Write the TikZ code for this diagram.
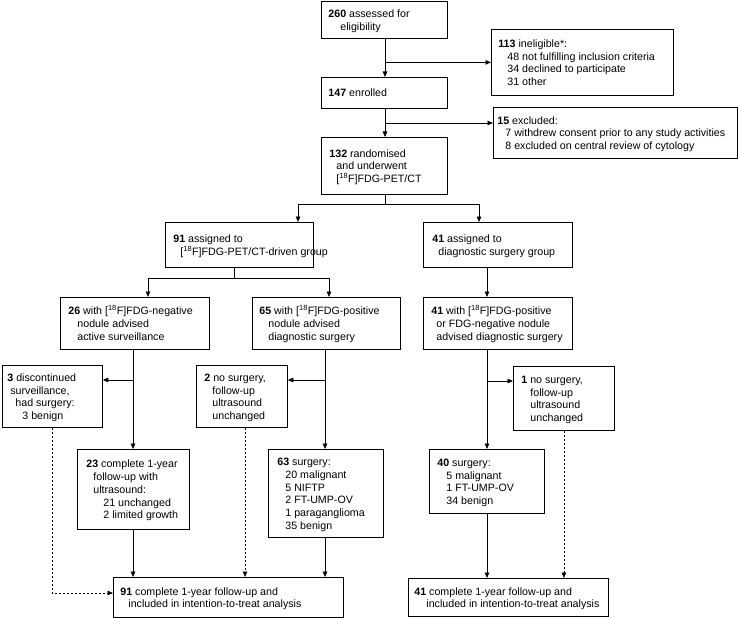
\documentclass[tikz,border=0pt]{standalone}
\usepackage{fontspec}
\setmainfont{Liberation Sans}
\usetikzlibrary{arrows.meta}
\newcommand\bt[2]{\makebox[#1][l]{\raisebox{-1.5bp}[\height][\depth]{\begin{tabular}{@{}l@{}}#2\end{tabular}}}}
\newcommand\iso{[\textsuperscript{18}F]}
\newcommand\ind[1]{\hspace*{#1bp}}
\begin{document}
\begin{tikzpicture}[x=1bp,y=-1bp,
  box/.style={draw=black, line width=0.8bp, anchor=north west, inner ysep=0pt,
    font=\fontsize{10.7}{12.8}\selectfont},
  arr/.style={line width=0.8bp, -{Triangle[length=5.5bp,width=4.5bp]}},
  ln/.style={line width=0.8bp},
  dsh/.style={line width=0.8bp, dash pattern=on 2bp off 2bp}]
\useasboundingbox (0,0) rectangle (738,618);
% boxes
\node[box, inner xsep=7bp, minimum width=126bp, minimum height=37bp] (A) at (321,1)
  {\bt{112bp}{\textbf{260} assessed for\\ \ind{12}eligibility}};
\node[box, inner xsep=7bp, minimum width=182bp, minimum height=66bp] (B) at (491,29)
  {\bt{168bp}{\textbf{113} ineligible*:\\ \ind{9}48 not fulfilling inclusion criteria\\ \ind{9}34 declined to participate\\ \ind{9}31 other}};
\node[box, inner xsep=7bp, minimum width=126bp, minimum height=31bp] (C) at (321,77)
  {\bt{112bp}{\textbf{147} enrolled}};
\node[box, inner xsep=4bp, minimum width=244bp, minimum height=51bp] (D) at (493,107)
  {\bt{236bp}{\textbf{15} excluded:\\ \ind{8}7 withdrew consent prior to any study activities\\ \ind{8}8 excluded on central review of cytology}};
\node[box, inner xsep=8bp, minimum width=126bp, minimum height=57bp] (E) at (321,137)
  {\bt{110bp}{\textbf{132} randomised\\ \ind{7}and underwent\\ \ind{7}\iso FDG-PET/CT}};
\node[box, inner xsep=8bp, minimum width=148bp, minimum height=45bp] (F) at (165,222)
  {\bt{132bp}{\textbf{91} assigned to\\ \ind{7}\iso FDG-PET/CT-driven group}};
\node[box, inner xsep=9bp, minimum width=149bp, minimum height=45bp] (G) at (423,222)
  {\bt{131bp}{\textbf{41} assigned to\\ \ind{6}diagnostic surgery group}};
\node[box, inner xsep=8bp, minimum width=149bp, minimum height=52bp] (H) at (60,297)
  {\bt{133bp}{\textbf{26} with \iso FDG-negative\\ \ind{9}nodule advised\\ \ind{9}active surveillance}};
\node[box, inner xsep=7bp, minimum width=148bp, minimum height=52bp] (I) at (252,297)
  {\bt{134bp}{\textbf{65} with \iso FDG-positive\\ \ind{9}nodule advised\\ \ind{9}diagnostic surgery}};
\node[box, inner xsep=8bp, minimum width=149bp, minimum height=52bp] (J) at (423,297)
  {\bt{133bp}{\textbf{41} with \iso FDG-positive\\ \ind{5}or FDG-negative nodule\\ \ind{5}advised diagnostic surgery}};
\node[box, inner xsep=5bp, minimum width=100bp, minimum height=62bp] (K) at (2,365)
  {\bt{90bp}{\textbf{3} discontinued\\ \ind{3}surveillance,\\ \ind{8}had surgery:\\ \ind{15}3 benign}};
\node[box, inner xsep=8bp, minimum width=91bp, minimum height=62bp] (L) at (196,365)
  {\bt{75bp}{\textbf{2} no surgery,\\ \ind{8}follow-up\\ \ind{8}ultrasound\\ \ind{8}unchanged}};
\node[box, inner xsep=8bp, minimum width=101bp, minimum height=64bp] (M) at (513,366)
  {\bt{85bp}{\textbf{1} no surgery,\\ \ind{9}follow-up\\ \ind{9}ultrasound\\ \ind{9}unchanged}};
\node[box, inner xsep=9bp, minimum width=112bp, minimum height=80bp] (N) at (77,449)
  {\bt{94bp}{\textbf{23} complete 1-year\\ \ind{7}follow-up with\\ \ind{7}ultrasound:\\ \ind{17}21 unchanged\\ \ind{17}2 limited growth}};
\node[box, inner xsep=9bp, minimum width=115bp, minimum height=88bp] (O) at (268,449)
  {\bt{97bp}{\textbf{63} surgery:\\ \ind{8}20 malignant\\ \ind{8}5 NIFTP\\ \ind{8}2 FT-UMP-OV\\ \ind{8}1 paraganglioma\\ \ind{8}35 benign}};
\node[box, inner xsep=8bp, minimum width=115bp, minimum height=64bp] (P) at (429,449)
  {\bt{99bp}{\textbf{40} surgery:\\ \ind{9}5 malignant\\ \ind{9}1 FT-UMP-OV\\ \ind{9}34 benign}};
\node[box, inner xsep=7bp, minimum width=230bp, minimum height=40bp] (Q) at (113,577)
  {\bt{216bp}{\textbf{91} complete 1-year follow-up and\\ \ind{8}included in intention-to-treat analysis}};
\node[box, inner xsep=6bp, minimum width=200bp, minimum height=38bp] (R) at (408,578)
  {\bt{188bp}{\textbf{41} complete 1-year follow-up and\\ \ind{12}included in intention-to-treat analysis}};
% helper coordinates
\coordinate (x385) at (385,0);
\coordinate (x298) at (298,0);
\coordinate (x479) at (479,0);
\coordinate (x234) at (234,0);
\coordinate (x148) at (148,0);
\coordinate (x329) at (329,0);
\coordinate (x487) at (487,0);
\coordinate (x133) at (133,0);
\coordinate (x325) at (325,0);
\coordinate (x245) at (245,0);
\coordinate (yD) at (0,123);
\coordinate (ys1) at (0,204);
\coordinate (ys2) at (0,278);
\coordinate (yb) at (0,380);
\coordinate (yb2) at (0,381);
\coordinate (yq) at (0,593);
% connectors
\draw[arr] (x385 |- A.south) -- (x385 |- C.north);
\draw[arr] (x385 |- B.west) -- (B.west);
\draw[arr] (x385 |- C.south) -- (x385 |- E.north);
\draw[arr] (x385 |- yD) -- (D.west |- yD);
\draw[ln] (x385 |- E.south) -- (x385 |- ys1);
\draw[ln] (x298 |- ys1) -- (x479 |- ys1);
\draw[arr] (x298 |- ys1) -- (x298 |- F.north);
\draw[arr] (x479 |- ys1) -- (x479 |- G.north);
\draw[ln] (x234 |- F.south) -- (x234 |- ys2);
\draw[ln] (x148 |- ys2) -- (x329 |- ys2);
\draw[arr] (x148 |- ys2) -- (x148 |- H.north);
\draw[arr] (x329 |- ys2) -- (x329 |- I.north);
\draw[arr] (x487 |- G.south) -- (x487 |- J.north);
\draw[arr] (x133 |- H.south) -- (x133 |- N.north);
\draw[arr] (x133 |- yb) -- (K.east |- yb);
\draw[arr] (x325 |- I.south) -- (x325 |- O.north);
\draw[arr] (x325 |- yb) -- (L.east |- yb);
\draw[arr] (x487 |- J.south) -- (x487 |- P.north);
\draw[arr] (x487 |- yb2) -- (M.west |- yb2);
\draw[arr] (x133 |- N.south) -- (x133 |- Q.north);
\draw[arr] (x325 |- O.south) -- (x325 |- Q.north);
\draw[dsh, -{Triangle[length=5.5bp,width=4.5bp]}] (x245 |- L.south) -- (x245 |- Q.north);
\draw[dsh, -{Triangle[length=5.5bp,width=4.5bp]}] (K.south) -- (K.south |- yq) -- (Q.west |- yq);
\draw[arr] (x487 |- P.south) -- (x487 |- R.north);
\draw[dsh, -{Triangle[length=5.5bp,width=4.5bp]}] (M.south) -- (M.south |- R.north);
\end{tikzpicture}
\end{document}
